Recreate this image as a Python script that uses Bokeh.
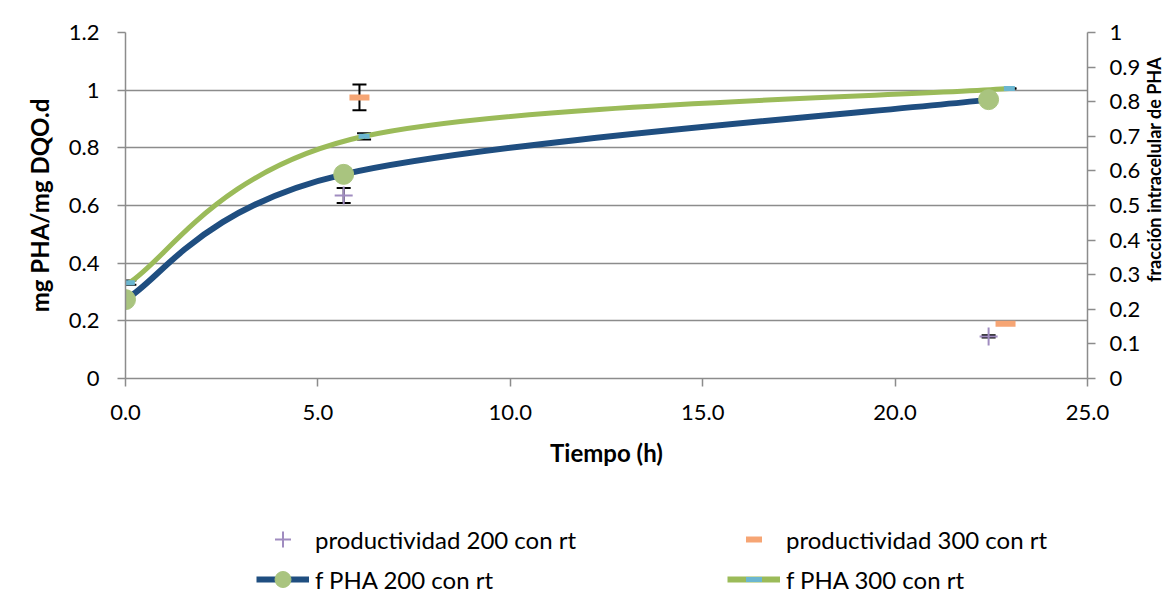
import math
from bokeh.plotting import figure
from bokeh.layouts import column, row
from bokeh.models import (Range1d, LinearAxis, FixedTicker, ColumnDataSource, Whisker,
                          TeeHead, Legend, LegendItem, Label, NumeralTickFormatter)
from bokeh.embed import file_html
from bokeh.resources import INLINE

# ---------------- data ----------------
prod200_t = [5.67, 22.43]
prod200 = [0.635, 0.146]
prod200_err = [0.026, 0.004]

prod300_t = [6.08, 22.87]
prod300 = [0.975, 0.19]
prod300_err = [0.045, 0.0]

f200_t = [0.0, 5.67, 22.43]
f200 = [0.228, 0.59, 0.806]

f300_t = [0.1, 6.2, 22.97]
f300 = [0.277, 0.70, 0.838]
f300_err = [0.006, 0.009, 0.0]

x_ticks = [0, 5, 10, 15, 20, 25]
left_ticks = [0, 0.2, 0.4, 0.6, 0.8, 1.0, 1.2]
left_labels = ["0", "0.2", "0.4", "0.6", "0.8", "1", "1.2"]
right_ticks = [0, 0.1, 0.2, 0.3, 0.4, 0.5, 0.6, 0.7, 0.8, 0.9, 1.0]
right_labels = ["0", "0.1", "0.2", "0.3", "0.4", "0.5", "0.6", "0.7", "0.8", "0.9", "1"]

series_names = ["productividad 200 con rt", "productividad 300 con rt",
                "f PHA 200 con rt", "f PHA 300 con rt"]
x_title = "Tiempo (h)"
left_title = "mg PHA/mg DQO.d"
right_title = "fracción intracelular de PHA"

FONT = "Lato"
GRAY = "#8c8c8c"
BLUE = "#1f4e80"
LGREEN = "#9bbb59"
CIRC = "#a9c47f"
CYAN = "#6bb6d0"
PURPLE = "#a08cc0"
ORANGE = "#f6a574"

def smooth_segments(xs, ys):
    """Catmull-Rom style cubic Bezier control points (Excel-like smoothed line)."""
    n = len(xs)
    d = dict(x0=[], y0=[], x1=[], y1=[], cx0=[], cy0=[], cx1=[], cy1=[])
    for i in range(n - 1):
        a = max(i - 1, 0)
        b = min(i + 2, n - 1)
        d["x0"].append(xs[i]); d["y0"].append(ys[i])
        d["x1"].append(xs[i + 1]); d["y1"].append(ys[i + 1])
        d["cx0"].append(xs[i] + (xs[i + 1] - xs[a]) / 6.0)
        d["cy0"].append(ys[i] + (ys[i + 1] - ys[a]) / 6.0)
        d["cx1"].append(xs[i + 1] - (xs[b] - xs[i]) / 6.0)
        d["cy1"].append(ys[i + 1] - (ys[b] - ys[i]) / 6.0)
    return ColumnDataSource(d)

TOP, FRAME_H, BOTTOM = 32, 346, 140
LEFT, FRAME_W, RIGHT = 125, 962, 54
TOTAL_W, TOTAL_H = 1162, 601

p = figure(frame_width=FRAME_W, frame_height=FRAME_H,
           min_border_left=LEFT, min_border_right=RIGHT, min_border_top=TOP,
           min_border_bottom=BOTTOM,
           x_range=Range1d(0, 25), y_range=Range1d(0, 1.2),
           output_backend="svg", toolbar_location=None)
p.extra_y_ranges = {"right": Range1d(0, 1)}
p.outline_line_color = None

p.xgrid.visible = False
p.ygrid.ticker = FixedTicker(ticks=left_ticks)
p.ygrid.grid_line_color = GRAY
p.ygrid.grid_line_width = 1.5

xa = p.xaxis[0]
xa.ticker = FixedTicker(ticks=x_ticks)
xa.formatter = NumeralTickFormatter(format="0.0")
xa.axis_label = x_title

ya = p.yaxis[0]
ya.ticker = FixedTicker(ticks=left_ticks)
ya.major_label_overrides = {t: l for t, l in zip(left_ticks, left_labels)}
ya.axis_label = left_title

ra = LinearAxis(y_range_name="right", ticker=FixedTicker(ticks=right_ticks))
ra.major_label_overrides = {t: l for t, l in zip(right_ticks, right_labels)}
p.add_layout(ra, "right")

for ax in (xa, ya, ra):
    ax.axis_line_color = GRAY
    ax.axis_line_width = 1.5
    ax.major_tick_line_color = GRAY
    ax.major_tick_line_width = 1.5
    ax.major_tick_out = 8
    ax.major_tick_in = 0
    ax.minor_tick_line_color = None
    ax.major_label_text_font = FONT
    ax.major_label_text_font_size = "22px"
    ax.major_label_text_color = "black"
    ax.axis_label_text_font = FONT
    ax.axis_label_text_font_size = "24px"
    ax.axis_label_text_font_style = "bold"
    ax.axis_label_text_color = "black"

xa.major_label_standoff = 18
xa.axis_label_standoff = 15
ya.major_label_standoff = 18
ya.axis_label_standoff = 12
ra.major_label_standoff = 14

# ---------------- error bars ----------------
def whisker(xs, ys, errs, yrn="default"):
    src = ColumnDataSource(dict(x=xs, lo=[y - e for y, e in zip(ys, errs)],
                                hi=[y + e for y, e in zip(ys, errs)]))
    w = Whisker(base="x", lower="lo", upper="hi", source=src, y_range_name=yrn,
                line_color="black", line_width=2, level="underlay",
                lower_head=TeeHead(size=14, line_color="black", line_width=2),
                upper_head=TeeHead(size=14, line_color="black", line_width=2))
    p.add_layout(w)

whisker(prod200_t, prod200, prod200_err)
whisker(prod300_t, prod300, prod300_err)
whisker(f300_t, f300, f300_err, "right")

# ---------------- series ----------------
p.bezier(x0="x0", y0="y0", x1="x1", y1="y1", cx0="cx0", cy0="cy0", cx1="cx1", cy1="cy1",
         source=smooth_segments(f200_t, f200), line_color=BLUE, line_width=6,
         y_range_name="right")
p.bezier(x0="x0", y0="y0", x1="x1", y1="y1", cx0="cx0", cy0="cy0", cx1="cx1", cy1="cy1",
         source=smooth_segments(f300_t, f300), line_color=LGREEN, line_width=5,
         y_range_name="right")
p.scatter(f200_t, f200, marker="circle", size=20, fill_color=CIRC, line_color=CIRC,
          y_range_name="right")
p.scatter(f300_t, f300, marker="dash", size=11, line_color=CYAN, line_width=5,
          y_range_name="right")
p.scatter(prod200_t, prod200, marker="cross", size=18, line_color=PURPLE, line_width=2)
p.scatter(prod300_t, prod300, marker="dash", size=20, line_color=ORANGE, line_width=6)

MAIN_H = TOP + FRAME_H + BOTTOM
MAIN_W = LEFT + FRAME_W + RIGHT

# ---------------- right axis title (reads bottom-to-top) ----------------
tw = TOTAL_W - MAIN_W
tf = figure(width=tw, height=MAIN_H, x_range=Range1d(0, 1), y_range=Range1d(0, MAIN_H),
            x_axis_type=None, y_axis_type=None,
            min_border_left=0, min_border_right=0, min_border_top=0, min_border_bottom=0,
            output_backend="svg", toolbar_location=None)
tf.outline_line_color = None
tf.grid.visible = False
tf.add_layout(Label(x=0.5, y=MAIN_H - TOP - FRAME_H / 2.0,
                    text=right_title, angle=math.pi / 2,
                    text_align="center", text_baseline="middle",
                    text_font=FONT, text_font_size="18px", text_font_style="bold",
                    text_color="black"))

# ---------------- legend (separate strip below) ----------------
LEG_H = TOTAL_H - MAIN_H
lf = figure(width=TOTAL_W, height=LEG_H, x_range=Range1d(100, 101), y_range=Range1d(100, 101),
            x_axis_type=None, y_axis_type=None,
            min_border_left=0, min_border_right=0, min_border_top=0, min_border_bottom=0,
            output_backend="svg", toolbar_location=None)
lf.outline_line_color = None
lf.grid.visible = False
# legend proxies: same series, drawn outside this strip's view; only their legend glyphs show
g_p200 = lf.scatter(prod200_t, prod200, marker="cross", size=18, line_color=PURPLE, line_width=2)
g_p300 = lf.scatter(prod300_t, prod300, marker="dash", size=20, line_color=ORANGE, line_width=6)
g_l200 = lf.line(f200_t, f200, line_color=BLUE, line_width=6)
g_c200 = lf.scatter(f200_t, f200, marker="circle", size=20, fill_color=CIRC, line_color=CIRC)
g_l300 = lf.line(f300_t, f300, line_color=LGREEN, line_width=6)
g_m300 = lf.scatter(f300_t, f300, marker="dash", size=11, line_color=CYAN, line_width=5)

# ncols layout fills column by column: order = col1 row1, col1 row2, col2 row1, col2 row2
legend = Legend(items=[
    LegendItem(label=series_names[0], renderers=[g_p200]),
    LegendItem(label=series_names[2], renderers=[g_l200, g_c200]),
    LegendItem(label=series_names[1], renderers=[g_p300]),
    LegendItem(label=series_names[3], renderers=[g_l300, g_m300]),
], ncols=2, location=(256, LEG_H - 81), padding=0, margin=0,
    glyph_width=53, glyph_height=40, label_height=24, label_width=412,
    label_standoff=6, spacing=-2,
    label_text_font=FONT, label_text_font_size="24px", label_text_color="black",
    border_line_color=None, background_fill_alpha=0)
lf.add_layout(legend, "center")

layout = column(row(p, tf, spacing=0), lf, spacing=0)
open("out.html", "w").write(file_html(layout, INLINE))
